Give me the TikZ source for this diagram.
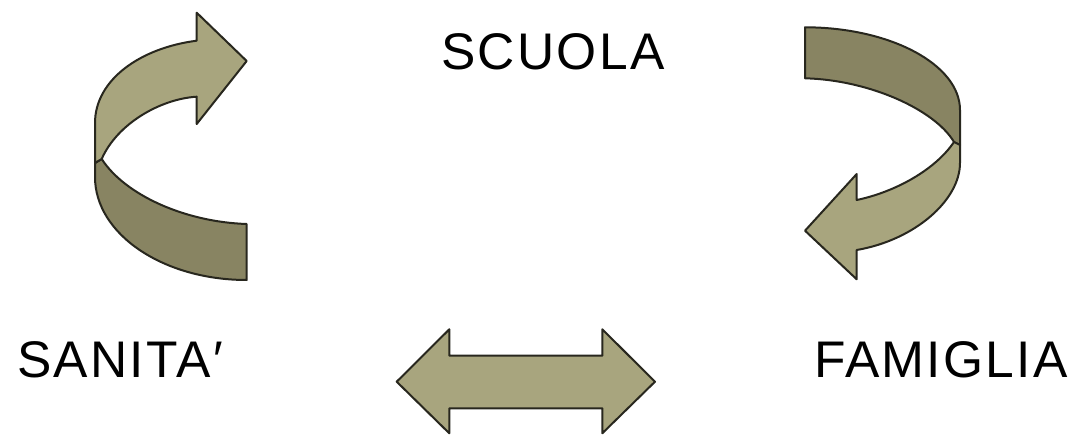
\documentclass[tikz,border=0pt]{standalone}
\usepackage{color}
\usepackage{fontspec}
\setmainfont{Liberation Sans}
\usepackage{tikz}

\definecolor{olivelight}{RGB}{168,165,126}
\definecolor{olivedark}{RGB}{136,132,98}
\definecolor{rim}{RGB}{40,39,30}

\tikzset{
	band/.style={draw=rim, line width=2pt, line join=round},
	word/.style={inner sep=0pt, anchor=base, font=\fontsize{51.5}{60}\selectfont\addfontfeature{LetterSpace=4.5}}
}

\begin{document}
\begin{tikzpicture}[x=1pt, y=-1pt]
		\useasboundingbox (0, 0) rectangle (1080, 436);
		\node[word] (scuola) at (553, 70) {SCUOLA};
		\node[word] (sanita) at (120, 377) {SANITA′};
		\node[word] (famiglia) at (941, 377) {FAMIGLIA};
		\filldraw[band, fill=olivedark] (101.7, 159) .. controls (125, 195) and (185, 222) .. (246.7, 224)
			-- (246.7, 280) .. controls (163, 280) and (95, 234) .. (95, 177) -- (95, 163) -- cycle;
		\filldraw[band, fill=olivelight] (196.7, 40.7) -- (196.7, 12.7) -- (246.7, 61) -- (196.7, 124)
			-- (196.7, 96.7) .. controls (160, 99) and (117, 124) .. (101.7, 159) -- (95, 163)
			-- (95, 123) .. controls (95, 80) and (140, 48) .. cycle;
		\filldraw[band, fill=olivedark] (805, 27.3) .. controls (890, 27.3) and (960, 64.5) .. (960, 110)
			-- (960, 145) -- (954, 142) .. controls (935, 110) and (870, 80) .. (805, 78.3) -- cycle;
		\filldraw[band, fill=olivelight] (954, 142) .. controls (935, 170) and (895, 192) .. (856.7, 200)
			-- (856.7, 174) -- (805, 230.7) -- (856.7, 279.3) -- (856.7, 250)
			.. controls (915, 240) and (960, 200) .. (960, 163) -- (960, 145) -- cycle;
		\filldraw[band, fill=olivelight] (396.7, 381.7) -- (449.3, 329.3) -- (449.3, 355.7) -- (602.3, 355.7)
			-- (602.3, 329.3) -- (655, 381.7) -- (602.3, 433.3) -- (602.3, 408.3) -- (449.3, 408.3)
			-- (449.3, 433.3) -- cycle;
	\end{tikzpicture}
\end{document}
